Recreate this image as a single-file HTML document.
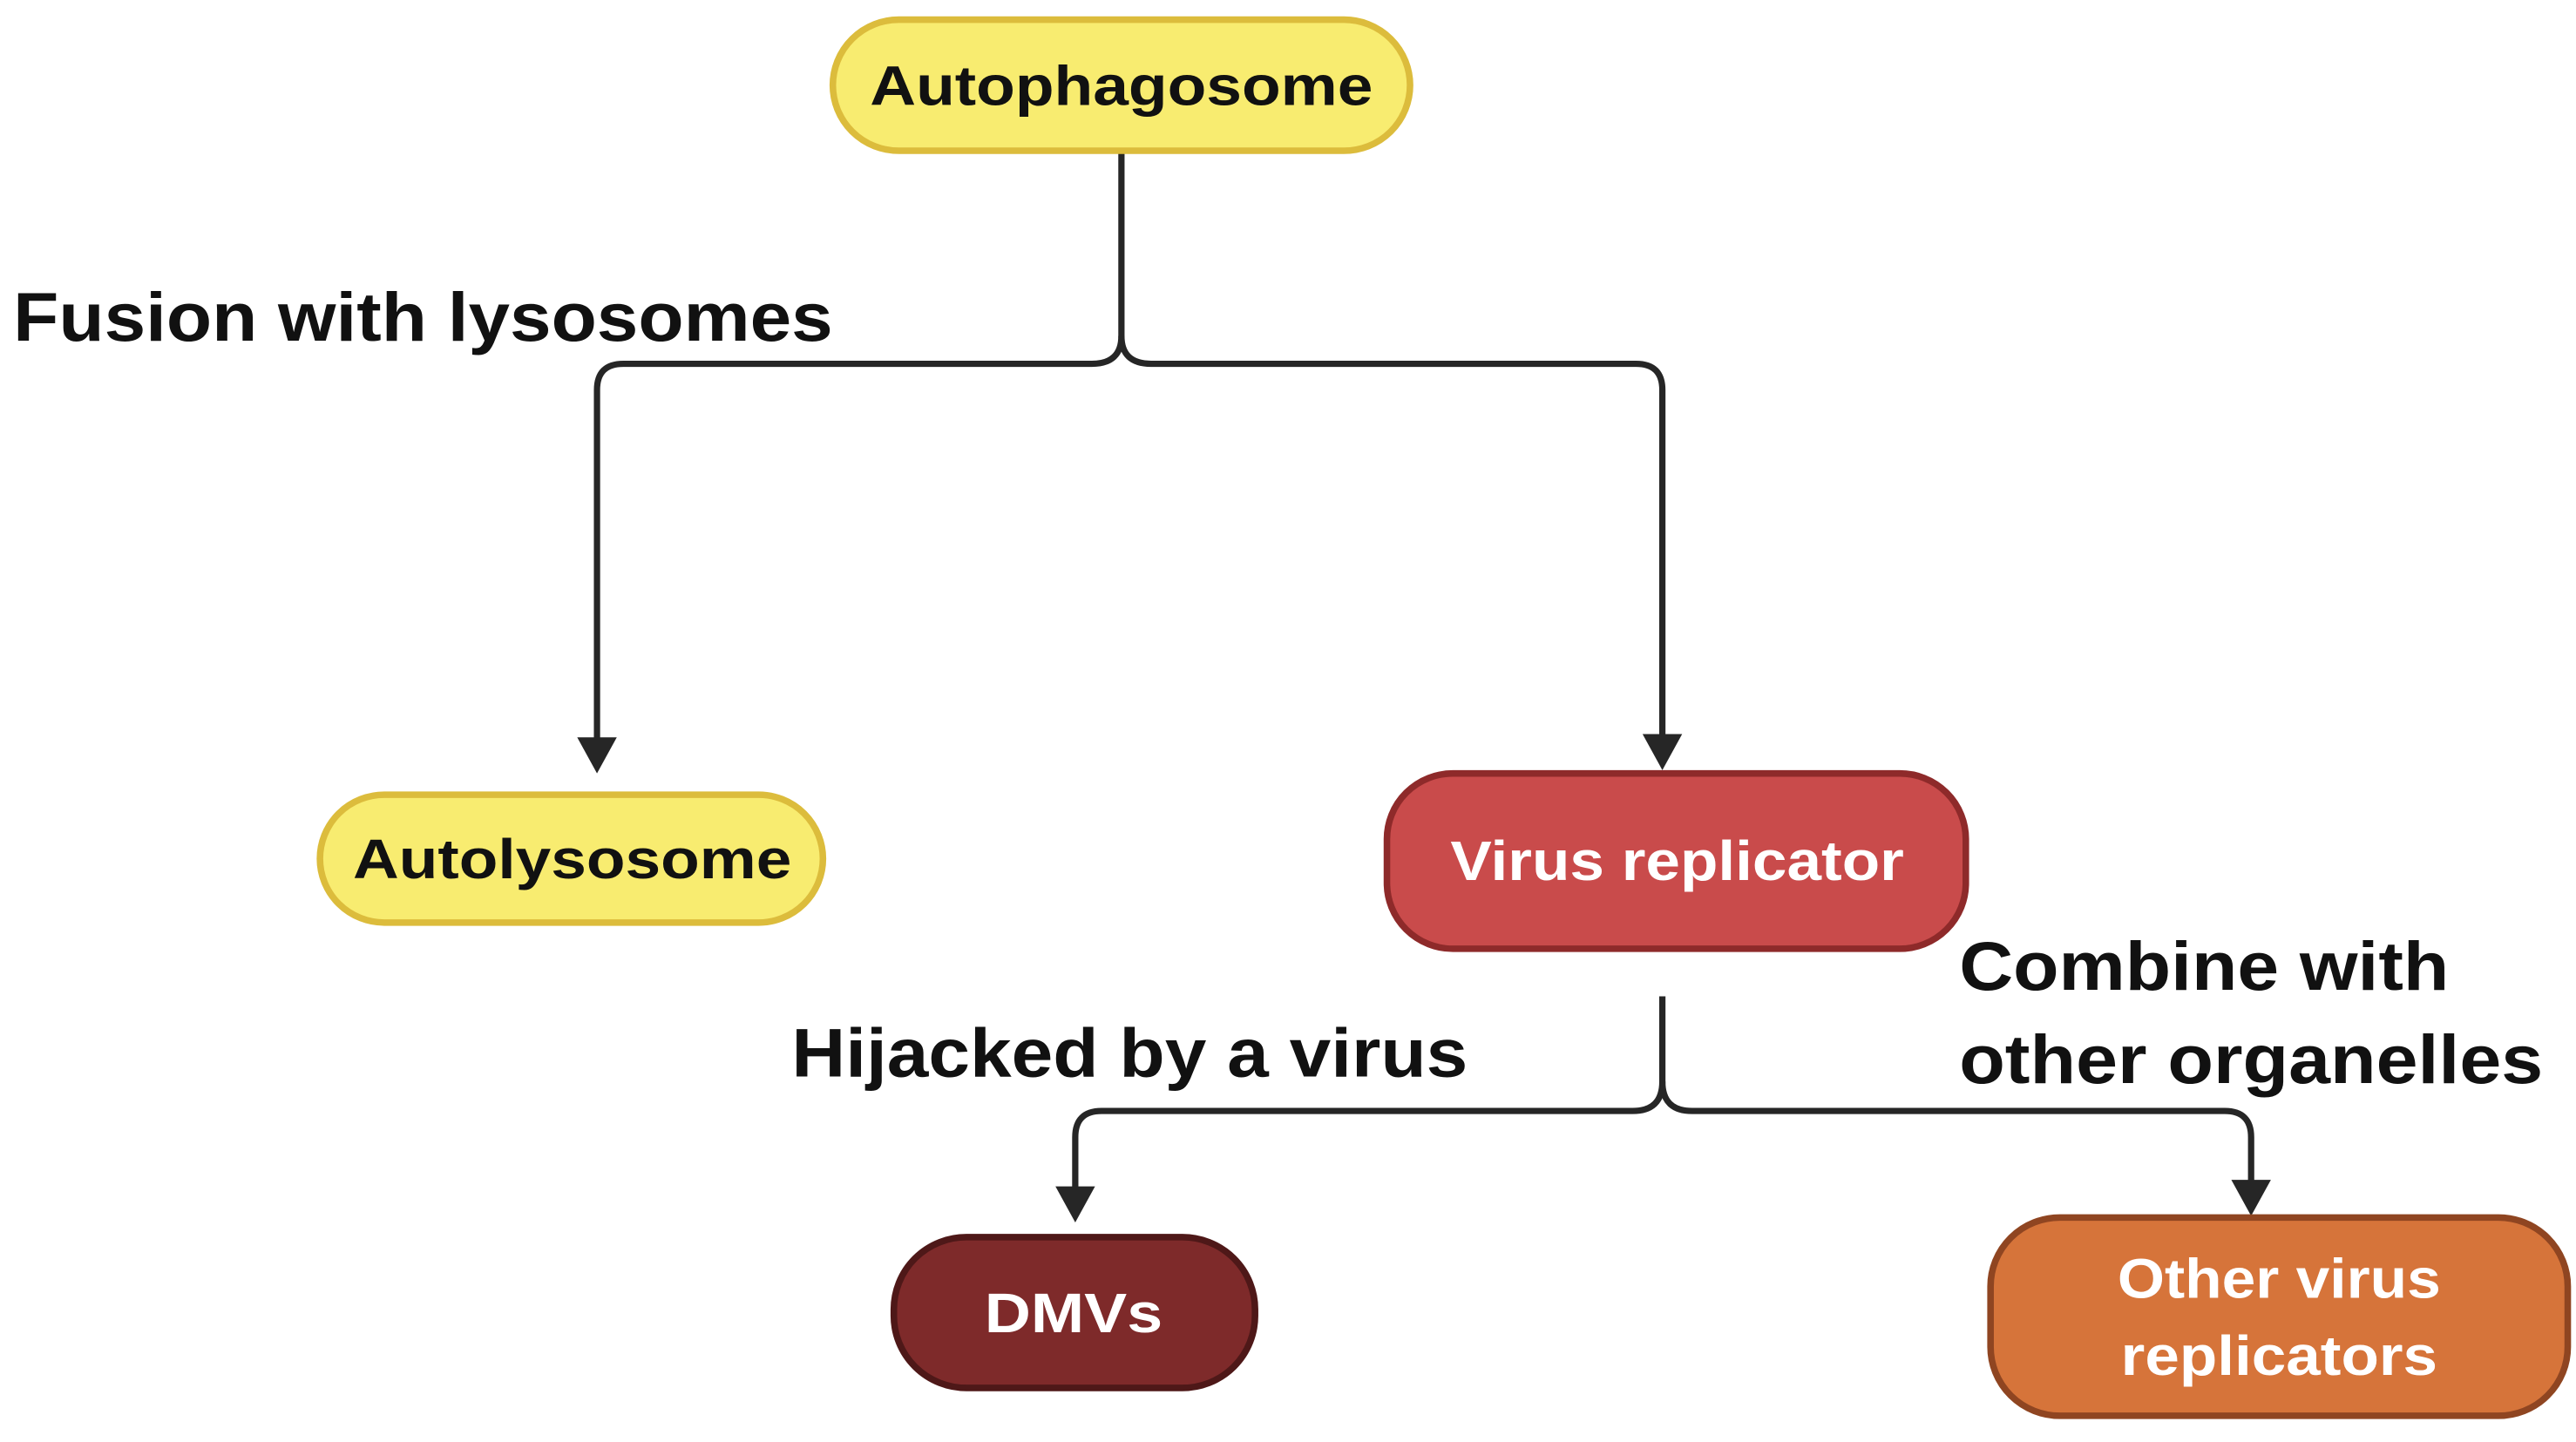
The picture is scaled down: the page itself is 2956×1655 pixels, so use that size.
<!DOCTYPE html>
<html><head><meta charset="utf-8"><style>
html,body{margin:0;padding:0;background:#fff;}
svg{display:block;}
text{font-family:"Liberation Sans",Arial,sans-serif;font-weight:bold;}
</style></head><body>
<svg width="2956" height="1655" viewBox="0 0 1562 880" preserveAspectRatio="none" xmlns="http://www.w3.org/2000/svg">
<defs>
<marker id="ah" viewBox="0 0 10 10" refX="10" refY="5" markerWidth="7" markerHeight="7" markerUnits="userSpaceOnUse" orient="auto">
</marker>
</defs>
<g fill="none" stroke="#262626" stroke-width="3.8">
<path d="M680,92 V205 Q680,222 662,222 H378 Q362,222 362,238 V452"/>
<path d="M680,205 Q680,222 698,222 H992 Q1008,222 1008,238 V450"/>
<path d="M1008,608 V660 Q1008,678 990,678 H668 Q652,678 652,694 V726"/>
<path d="M1008,660 Q1008,678 1026,678 H1349 Q1365,678 1365,694 V722"/>
</g>
<g fill="#262626">
<polygon points="350,450 374,450 362,472"/>
<polygon points="996,448 1020,448 1008,470"/>
<polygon points="640,724 664,724 652,746"/>
<polygon points="1353,720 1377,720 1365,742"/>
</g>
<rect x="505" y="12" width="350" height="80" rx="40" fill="#f8ec70" stroke="#dcbc3c" stroke-width="4"/>
<text x="680" y="64" font-size="34" text-anchor="middle" fill="#111" textLength="305" lengthAdjust="spacingAndGlyphs">Autophagosome</text>
<rect x="194" y="485" width="305" height="78" rx="39" fill="#f8ec70" stroke="#dcbc3c" stroke-width="4"/>
<text x="347" y="536" font-size="34" text-anchor="middle" fill="#111" textLength="266" lengthAdjust="spacingAndGlyphs">Autolysosome</text>
<rect x="841" y="472" width="351" height="107" rx="40" fill="#c94b4b" stroke="#8e2a2a" stroke-width="4"/>
<text x="1017" y="537" font-size="34" text-anchor="middle" fill="#fff" textLength="275" lengthAdjust="spacingAndGlyphs">Virus replicator</text>
<rect x="542" y="755" width="219" height="92" rx="44" fill="#7e2a2a" stroke="#4e1818" stroke-width="4"/>
<text x="651" y="813" font-size="34" text-anchor="middle" fill="#fff" textLength="108" lengthAdjust="spacingAndGlyphs">DMVs</text>
<rect x="1207" y="743" width="350" height="121" rx="42" fill="#d6743a" stroke="#8f4521" stroke-width="4"/>
<text x="1382" y="792" font-size="34" text-anchor="middle" fill="#fff" textLength="196" lengthAdjust="spacingAndGlyphs">Other virus</text>
<text x="1382" y="839" font-size="34" text-anchor="middle" fill="#fff" textLength="192" lengthAdjust="spacingAndGlyphs">replicators</text>
<text x="8" y="208" font-size="42" fill="#111" textLength="497" lengthAdjust="spacingAndGlyphs">Fusion with lysosomes</text>
<text x="480" y="657" font-size="42" fill="#111" textLength="410" lengthAdjust="spacingAndGlyphs">Hijacked by a virus</text>
<text x="1188" y="604" font-size="42" fill="#111" textLength="297" lengthAdjust="spacingAndGlyphs">Combine with</text>
<text x="1188" y="661" font-size="42" fill="#111" textLength="354" lengthAdjust="spacingAndGlyphs">other organelles</text>
</svg>
</body></html>
